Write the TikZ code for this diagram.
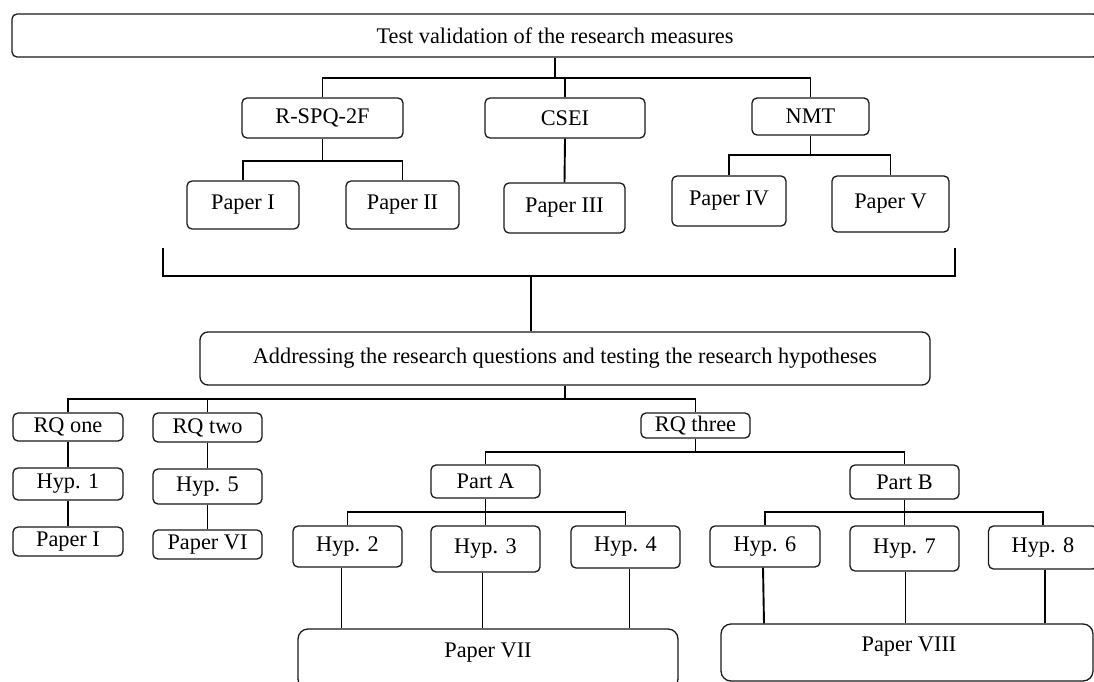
\documentclass[tikz,border=0pt]{standalone}
\usepackage{fontspec}
\setmainfont{Liberation Serif}
\newcommand\diafont{\fontsize{22.3}{25}\selectfont}
\tikzset{
  box/.style={draw=black!90, line width=1.3pt, rounded corners=5pt, inner sep=0pt, font=\diafont},
  bigbox/.style={box, rounded corners=10pt},
  conn/.style={line width=1.9pt, black},
}
\begin{document}
\begin{tikzpicture}[x=1pt, y=-1pt]
\useasboundingbox (0,0) rectangle (1094,682);
\clip (0,0) rectangle (1094,682);
% top level
\node[box, minimum width=1086, minimum height=43] (top) at (555,35.5) {Test validation of the research measures};
\node[box, minimum width=161, minimum height=40] (rspq) at (322.5,118) {R-SPQ-2F};
\node[box, minimum width=160, minimum height=40] (csei) at (565,118) {CSEI};
\node[box, minimum width=117, minimum height=37] (nmt) at (810.5,116.5) {NMT};
\node[box, minimum width=112, minimum height=48] (p1) at (243,205) {Paper I};
\node[box, minimum width=113, minimum height=48] (p2) at (402.5,205) {Paper II};
\node[box, minimum width=121, minimum height=50] (p3) at (564.5,208) {Paper III};
\node[box, minimum width=114, minimum height=50] (p4) at (729,201) {Paper IV};
\node[box, minimum width=117, minimum height=56] (p5) at (890.5,204) {Paper V};
% second level
\node[bigbox, rounded corners=8pt, minimum width=730, minimum height=53] (addr) at (565,358.5) {Addressing the research questions and testing the research hypotheses};
\node[box, minimum width=110, minimum height=28] (rq1) at (68,427) {RQ one};
\node[box, minimum width=109, minimum height=29] (rq2) at (207.5,427.5) {RQ two};
\node[box, minimum width=109, minimum height=25] (rq3) at (695.5,425.5) {RQ three};
\node[box, minimum width=110, minimum height=32] (h1) at (68,484) {Hyp. 1};
\node[box, minimum width=109, minimum height=35] (h5) at (207.5,486.5) {Hyp. 5};
\node[box, minimum width=110, minimum height=29] (pI) at (68,541.5) {Paper I};
\node[box, minimum width=109, minimum height=29] (pVI) at (207.5,544.5) {Paper VI};
\node[box, minimum width=109, minimum height=33] (partA) at (485.5,481.5) {Part A};
\node[box, minimum width=109, minimum height=34] (partB) at (904.5,482) {Part B};
\node[box, minimum width=109, minimum height=41] (h2) at (347.5,546.5) {Hyp. 2};
\node[box, minimum width=109, minimum height=46] (h3) at (485.5,549) {Hyp. 3};
\node[box, minimum width=109, minimum height=42] (h4) at (625.5,547) {Hyp. 4};
\node[box, minimum width=110, minimum height=41] (h6) at (765,546.5) {Hyp. 6};
\node[box, minimum width=109, minimum height=45] (h7) at (904.5,548.5) {Hyp. 7};
\node[box, minimum width=109, minimum height=43] (h8) at (1043,547.5) {Hyp. 8};
\node[bigbox, minimum width=380, minimum height=60, label={[font=\diafont, yshift=6pt]center:Paper VII}] (p7) at (488,659) {};
\node[bigbox, minimum width=372, minimum height=57, label={[font=\diafont, yshift=5.5pt, xshift=2pt]center:Paper VIII}] (p8) at (907,652.5) {};
% junctions
\coordinate (j0) at (555,78);
\coordinate (jr) at (322.5,161);
\coordinate (jn) at (810.5,155);
\coordinate (bl) at (163,248);
\coordinate (br) at (955,248);
\coordinate (bm) at (531,276);
\coordinate (ja) at (565,399);
\coordinate (j3) at (695.5,452);
\coordinate (jA) at (485.5,512);
\coordinate (jB) at (904.5,512);
% connectors, top part
\draw[conn] (top.south -| j0) -- (j0);
\draw[conn] (rspq.north) |- (j0) -| (nmt.north);
\draw[conn] (csei.north) -- (csei.north |- j0);
\draw[conn] (rspq.south) -- (jr);
\draw[conn] (p1.north) |- (jr) -| (p2.north);
\draw[conn] (csei.south) -- (p3.north);
\draw[conn] (nmt.south) -- (jn);
\draw[conn] (p4.north) |- (jn) -| (p5.north);
% bracket
\draw[conn] (bl) |- (bm) -| (br);
\draw[conn] (bm) -- (bm |- addr.north);
% second part
\draw[conn] (addr.south) -- (ja);
\draw[conn] (rq1.north) |- (ja);
\draw[line width=1.4pt] (ja) -| (rq3.north);
\draw[conn] (rq2.north) -- (rq2.north |- ja);
\draw[conn] (rq1.south) -- (h1.north);
\draw[conn] (h1.south) -- (pI.north);
\draw[conn] (rq2.south) -- (h5.north);
\draw[conn] (h5.south) -- (pVI.north);
\draw[conn] (rq3.south) -- (j3);
\draw[conn] (partA.north) |- (j3) -| (partB.north);
\draw[conn] (partA.south) -- (jA);
\draw[conn] (h2.north) |- (jA) -| (h4.north);
\draw[conn] (h3.north) -- (jA);
\draw[conn] (partB.south) -- (jB);
\draw[conn] (h6.north) |- (jB) -| (h8.north);
\draw[conn] (h7.north) -- (jB);
% hypotheses to papers
\draw[conn] ([xshift=-6pt]h2.south) -- ([xshift=-6pt]h2.south |- p7.north);
\draw[conn] ([xshift=-3pt]h3.south) -- ([xshift=-3pt]h3.south |- p7.north);
\draw[conn] ([xshift=4pt]h4.south) -- ([xshift=4pt]h4.south |- p7.north);
\draw[conn] ([xshift=-2pt]h6.south) -- ([xshift=-1pt]h6.south |- p8.north);
\draw[conn] ([xshift=1pt]h7.south) -- ([xshift=1pt]h7.south |- p8.north);
\draw[conn] ([xshift=2pt]h8.south) -- ([xshift=2pt]h8.south |- p8.north);
\end{tikzpicture}
\end{document}
